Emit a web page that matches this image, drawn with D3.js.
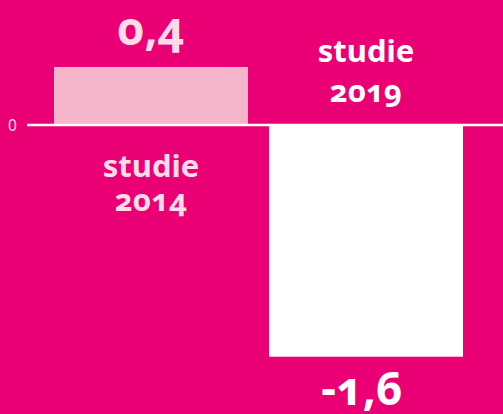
<!DOCTYPE html>
<html><head><meta charset="utf-8">
<script src="https://cdn.jsdelivr.net/npm/d3@7"></script>
<style>
html,body{margin:0;padding:0;background:#EA0074;}
svg{display:block;font-family:"Noto Sans",sans-serif;}
.onum{font-variant-numeric:oldstyle-nums;font-feature-settings:"onum" 1;}
</style></head><body>
<svg id="c" width="503" height="414"></svg>
<script>
const categories = ["studie 2014", "studie 2019"];
const values = [0.4, -1.6];
const valueLabels = ["0,4", "-1,6"];
const yTicks = [0];
const yTickLabels = ["0"];

const W = 503, H = 414;
const svg = d3.select("#c");
svg.append("rect").attr("width", W).attr("height", H).attr("fill", "#EA0074");

const x = d3.scaleBand().domain(categories).range([43.5, 473.5]).paddingInner(0.0977).paddingOuter(0.0488);
const y = d3.scaleLinear().domain([-1.6, 0.4]).range([356.7, 67]);

const barFill = ["#F5B5CA", "#FFFFFF"];
const textFill = ["#FDDCE8", "#FFFFFF"];

svg.selectAll("rect.bar").data(values).enter().append("rect")
  .attr("class", "bar")
  .attr("x", (d, i) => x(categories[i]))
  .attr("width", x.bandwidth())
  .attr("y", d => y(Math.max(0, d)))
  .attr("height", d => Math.abs(y(d) - y(0)))
  .attr("fill", (d, i) => barFill[i]);

// zero line
svg.selectAll("line.tick").data(yTicks).enter().append("line")
  .attr("x1", 27).attr("x2", W)
  .attr("y1", d => y(d)).attr("y2", d => y(d))
  .attr("stroke", "#FFFFFF").attr("stroke-width", 2.5);
svg.selectAll("text.ytick").data(yTicks).enter().append("text")
  .attr("x", 12.5).attr("y", d => y(d) + 6)
  .attr("text-anchor", "middle").attr("font-size", 15.5)
  .attr("fill", "#FDDCE8")
  .text((d, i) => yTickLabels[i]);

// value labels
svg.selectAll("text.val").data(values).enter().append("text")
  .attr("class", "onum")
  .attr("x", (d, i) => x(categories[i]) + x.bandwidth() / 2 - (d < 0 ? 4 : 0))
  .attr("y", d => d >= 0 ? y(d) - 22 : y(d) + 48)
  .attr("text-anchor", "middle").attr("font-size", 46).attr("font-weight", 700)
  .attr("fill", (d, i) => textFill[i])
  .text((d, i) => valueLabels[i]);

// category labels
categories.forEach((c, i) => {
  const parts = c.split(" ");
  const cx = x(c) + x.bandwidth() / 2;
  const base = values[i] >= 0 ? [y(0) + 52, y(0) + 86] : [y(0) - 63, y(0) - 23];
  parts.forEach((p, j) => {
    svg.append("text").attr("class", "onum").attr("x", cx).attr("y", base[j])
      .attr("text-anchor", "middle").attr("font-size", 31).attr("font-weight", 700)
      .attr("fill", textFill[i]).text(p);
  });
});
</script></body></html>
